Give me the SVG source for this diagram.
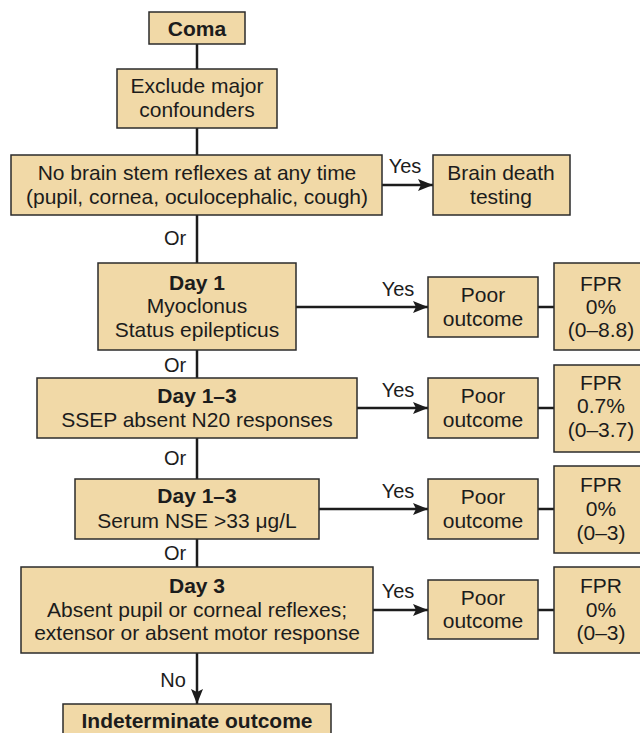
<svg xmlns="http://www.w3.org/2000/svg" width="640" height="733" viewBox="0 0 640 733">
  <style>
    .box { fill: #f1d9a7; stroke: #2b2b2b; stroke-width: 1.5; }
    text { font-family: "Liberation Sans", Arial, sans-serif; font-size: 21px; fill: #1c1c1c; text-anchor: middle; }
    .b { font-weight: bold; }
    .lbl { font-size: 20px; }
    .wire { stroke: #1c1c1c; stroke-width: 2.5; fill: none; }
  </style>
  <defs>
    <marker id="arrow" markerUnits="userSpaceOnUse" markerWidth="16" markerHeight="12" refX="15" refY="6" orient="auto">
      <path d="M0,0 L15,6 L0,12 L3,6 z" fill="#1c1c1c"/>
    </marker>
  </defs>
  <rect width="640" height="733" fill="#ffffff"/>

  <!-- connectors -->
  <g id="connectors">
    <line class="wire" x1="197" y1="44" x2="197" y2="567"/>
    <line class="wire" x1="382" y1="185" x2="433" y2="185" marker-end="url(#arrow)"/>
    <line class="wire" x1="296" y1="307" x2="428" y2="307" marker-end="url(#arrow)"/>
    <line class="wire" x1="357" y1="408" x2="428" y2="408" marker-end="url(#arrow)"/>
    <line class="wire" x1="319" y1="509" x2="428" y2="509" marker-end="url(#arrow)"/>
    <line class="wire" x1="373" y1="610" x2="428" y2="610" marker-end="url(#arrow)"/>
    <line class="wire" x1="538" y1="307" x2="554" y2="307"/>
    <line class="wire" x1="538" y1="408" x2="554" y2="408"/>
    <line class="wire" x1="538" y1="509" x2="554" y2="509"/>
    <line class="wire" x1="538" y1="610" x2="554" y2="610"/>
    <line class="wire" x1="197" y1="653" x2="197" y2="704" marker-end="url(#arrow)"/>
    <text class="lbl" x="405" y="173">Yes</text>
    <text class="lbl" x="398" y="296">Yes</text>
    <text class="lbl" x="398" y="397">Yes</text>
    <text class="lbl" x="398" y="498">Yes</text>
    <text class="lbl" x="398" y="598">Yes</text>
    <text class="lbl" x="175" y="245">Or</text>
    <text class="lbl" x="175" y="372">Or</text>
    <text class="lbl" x="175" y="465">Or</text>
    <text class="lbl" x="175" y="560">Or</text>
    <text class="lbl" x="173" y="687">No</text>
  </g>

  <g id="coma">
    <rect class="box" x="149" y="12" width="96" height="32"/>
    <text class="b" x="197" y="36">Coma</text>
  </g>
  <g id="exclude">
    <rect class="box" x="117" y="69" width="160" height="59"/>
    <text x="197" y="93">Exclude major</text>
    <text x="197" y="117">confounders</text>
  </g>
  <g id="brainstem">
    <rect class="box" x="11" y="155" width="371" height="60"/>
    <text x="197" y="180">No brain stem reflexes at any time</text>
    <text x="197" y="204">(pupil, cornea, oculocephalic, cough)</text>
  </g>
  <g id="braindeath">
    <rect class="box" x="433" y="155" width="137" height="60"/>
    <text x="501" y="180">Brain death</text>
    <text x="501" y="204">testing</text>
  </g>

  <g id="day1">
    <rect class="box" x="98" y="263" width="198" height="87"/>
    <text class="b" x="197" y="290">Day 1</text>
    <text x="197" y="313">Myoclonus</text>
    <text x="197" y="337">Status epilepticus</text>
  </g>
  <g id="poor1">
    <rect class="box" x="428" y="277" width="110" height="60"/>
    <text x="483" y="302">Poor</text>
    <text x="483" y="326">outcome</text>
  </g>
  <g id="fpr1">
    <rect class="box" x="554" y="263" width="100" height="87"/>
    <text x="601" y="291">FPR</text>
    <text x="601" y="314">0%</text>
    <text x="601" y="337">(0–8.8)</text>
  </g>

  <g id="ssep">
    <rect class="box" x="37" y="378" width="320" height="60"/>
    <text class="b" x="197" y="403">Day 1–3</text>
    <text x="197" y="427">SSEP absent N20 responses</text>
  </g>
  <g id="poor2">
    <rect class="box" x="428" y="378" width="110" height="60"/>
    <text x="483" y="403">Poor</text>
    <text x="483" y="427">outcome</text>
  </g>
  <g id="fpr2">
    <rect class="box" x="554" y="365" width="100" height="87"/>
    <text x="601" y="390">FPR</text>
    <text x="601" y="413">0.7%</text>
    <text x="601" y="437">(0–3.7)</text>
  </g>

  <g id="nse">
    <rect class="box" x="75" y="479" width="244" height="60"/>
    <text class="b" x="197" y="503">Day 1–3</text>
    <text x="197" y="528">Serum NSE &gt;33 μg/L</text>
  </g>
  <g id="poor3">
    <rect class="box" x="428" y="479" width="110" height="60"/>
    <text x="483" y="504">Poor</text>
    <text x="483" y="528">outcome</text>
  </g>
  <g id="fpr3">
    <rect class="box" x="554" y="466" width="100" height="87"/>
    <text x="601" y="492">FPR</text>
    <text x="601" y="516">0%</text>
    <text x="601" y="540">(0–3)</text>
  </g>

  <g id="day3">
    <rect class="box" x="21" y="567" width="352" height="86"/>
    <text class="b" x="197" y="593">Day 3</text>
    <text x="197" y="617">Absent pupil or corneal reflexes;</text>
    <text x="197" y="640">extensor or absent motor response</text>
  </g>
  <g id="poor4">
    <rect class="box" x="428" y="580" width="110" height="59"/>
    <text x="483" y="605">Poor</text>
    <text x="483" y="628">outcome</text>
  </g>
  <g id="fpr4">
    <rect class="box" x="554" y="567" width="100" height="86"/>
    <text x="601" y="593">FPR</text>
    <text x="601" y="617">0%</text>
    <text x="601" y="640">(0–3)</text>
  </g>

  <g id="indeterminate">
    <rect class="box" x="63" y="704" width="268" height="40"/>
    <text class="b" x="197" y="728">Indeterminate outcome</text>
  </g>
</svg>
